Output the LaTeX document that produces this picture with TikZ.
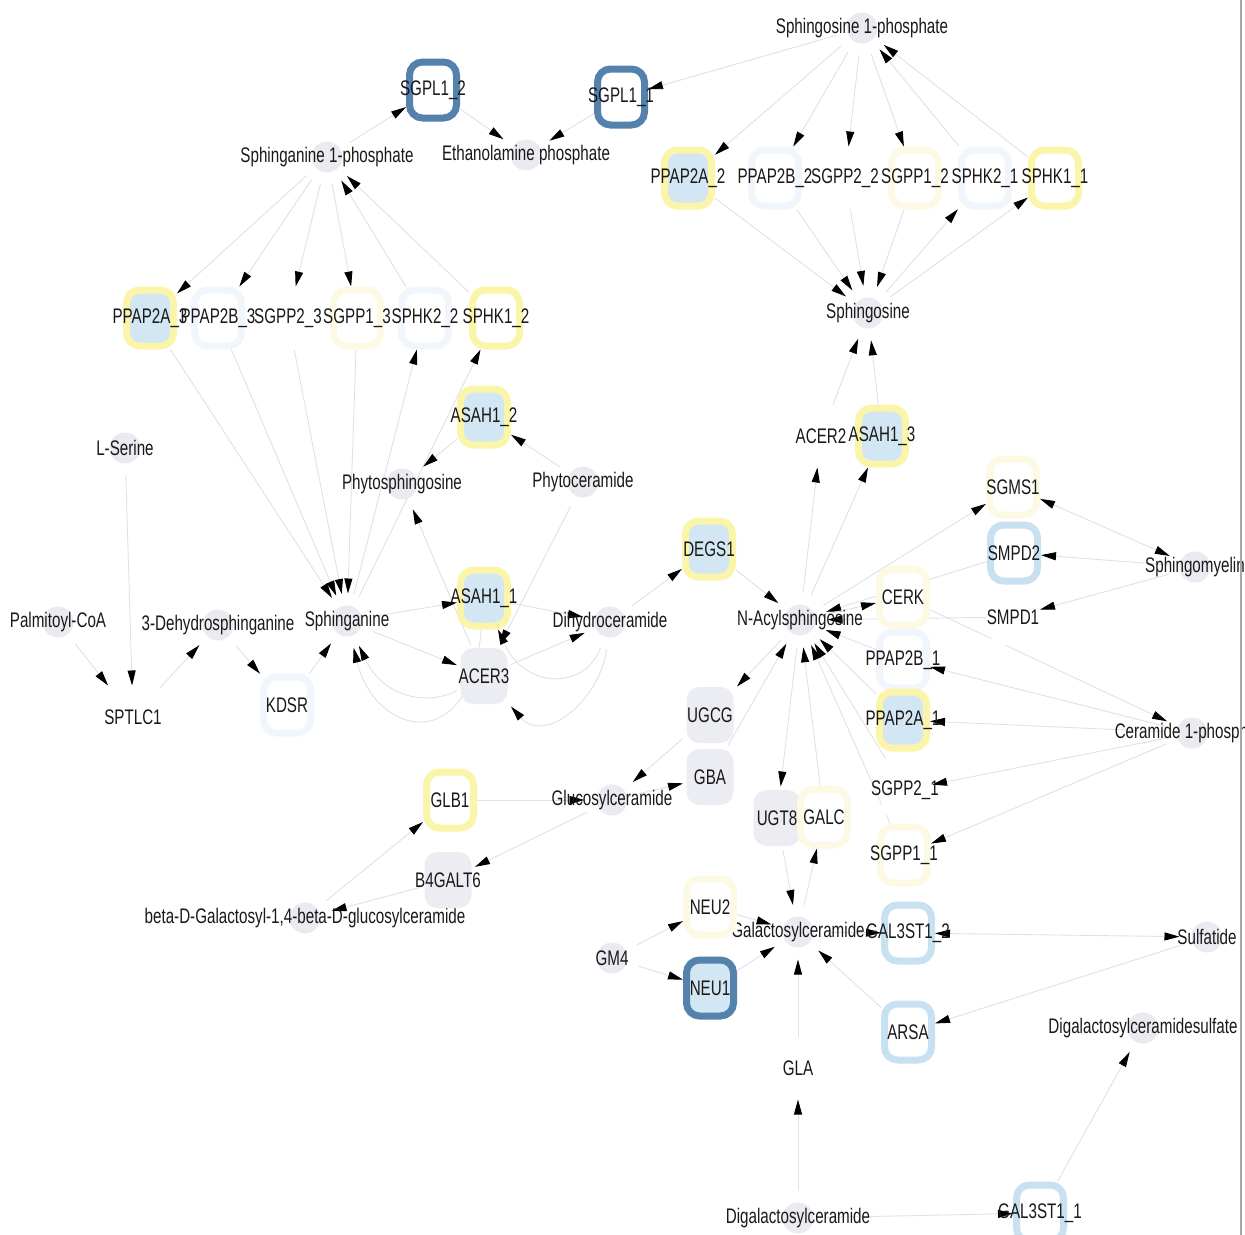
\documentclass[tikz,border=0pt]{standalone}
\usepackage{fontspec}
\setmainfont{Liberation Sans}[FakeStretch=0.72]
\usepackage{xcolor}
\usetikzlibrary{arrows.meta,backgrounds}

\definecolor{bordDark}{RGB}{84,130,172}
\definecolor{bordBlue}{RGB}{200,225,240}
\definecolor{bordFaint}{RGB}{240,246,251}
\definecolor{bordYel}{RGB}{250,245,168}
\definecolor{bordCream}{RGB}{252,250,228}
\definecolor{fillBlue}{RGB}{210,230,243}
\definecolor{fillGray}{RGB}{236,237,242}
\definecolor{metGray}{RGB}{234,235,241}
\definecolor{edgeGray}{RGB}{222,225,232}

\tikzset{
  lbl/.style={font=\fontsize{12}{13}\selectfont, text=black!90, inner sep=0pt},
  met/.style={circle, fill=metGray, minimum size=6.2mm, inner sep=0pt, outer sep=2.4mm},
  enz/.style={rounded corners=2.6mm, minimum width=9.4mm, minimum height=11.2mm,
    inner sep=0pt, outer sep=0.7mm, line width=1.4mm},
  enzDark/.style={enz, draw=bordDark, fill=white},
  enzDarkB/.style={enz, draw=bordDark, fill=fillBlue},
  enzYB/.style={enz, draw=bordYel, fill=fillBlue},
  enzYW/.style={enz, draw=bordYel, fill=white},
  enzLB/.style={enz, draw=bordBlue, fill=white},
  enzFB/.style={enz, draw=bordFaint, fill=white},
  enzFY/.style={enz, draw=bordCream, fill=white},
  enzGray/.style={enz, fill=fillGray},
  enzNone/.style={enz, fill=white},
  flow/.style={draw=edgeGray, line width=0.5pt,
    -{Triangle[length=3mm,width=1.6mm,color=black]}},
  twoway/.style={draw=edgeGray, line width=0.5pt,
    {Triangle[length=3mm,width=1.6mm,color=black]}-{Triangle[length=3mm,width=1.6mm,color=black]}}
}

\begin{document}
\begin{tikzpicture}[x=0.2mm,y=-0.2mm]
\useasboundingbox (0,0) rectangle (1245,1235);

% Metabolites
\node[met, label={[lbl]center:Sphingosine 1-phosphate}] (s1p) at (862,28) {};
\node[met, label={[lbl]center:Sphinganine 1-phosphate}] (sa1p) at (327,157) {};
\node[met, label={[lbl]center:Ethanolamine phosphate}] (etap) at (526,155) {};
\node[met, label={[lbl]center:Sphingosine}] (so) at (868,313) {};
\node[met, label={[lbl]center:L-Serine}] (lser) at (125,448) {};
\node[met, label={[lbl]center:Phytosphingosine}] (phso) at (402,484) {};
\node[met, label={[lbl]center:Phytoceramide}] (phcer) at (583,482) {};
\node[met, label={[lbl]center:Palmitoyl-CoA}] (palm) at (58,622) {};
\node[met, label={[lbl]center:3-Dehydrosphinganine}] (dhsa) at (218,625) {};
\node[met, label={[lbl]center:Sphinganine}] (sa) at (347,621) {};
\node[met, label={[lbl]center:Dihydroceramide}] (dhcer) at (610,622) {};
\node[met, label={[lbl]center:N-Acylsphingosine}] (nacyl) at (800,620) {};
\node[met, label={[lbl]center:Sphingomyelin}] (sm) at (1195,567) {};
\node[met, label={[lbl]center:Ceramide 1-phosphate}] (c1p) at (1192,733) {};
\node[met, label={[lbl]center:Glucosylceramide}] (glc) at (612,800) {};
\node[met, label={[lbl]center:{beta-D-Galactosyl-1,4-beta-D-glucosylceramide}}] (lac) at (305,918) {};
\node[met, label={[lbl]center:GM4}] (gm4) at (612,958) {};
\node[met, label={[lbl]center:Galactosylceramide}] (gal) at (798,932) {};
\node[met, label={[lbl]center:Sulfatide}] (sulf) at (1207,937) {};
\node[met, label={[lbl]center:Digalactosylceramidesulfate}] (dgs) at (1143,1028) {};
\node[met, label={[lbl]center:Digalactosylceramide}] (dg) at (798,1218) {};

% Enzymes, top
\node[enzDark, label={[lbl]center:SGPL1\_2}] (sgpl12) at (433,90) {};
\node[enzDark, label={[lbl]center:SGPL1\_1}] (sgpl11) at (621,97) {};
\node[enzYB, label={[lbl]center:PPAP2A\_2}] (ppap2a2) at (688,178) {};
\node[enzFB, label={[lbl]center:PPAP2B\_2}] (ppap2b2) at (775,178) {};
\node[enzNone, label={[lbl]center:SGPP2\_2}] (sgpp22) at (845,178) {};
\node[enzFY, label={[lbl]center:SGPP1\_2}] (sgpp12) at (915,178) {};
\node[enzFB, label={[lbl]center:SPHK2\_1}] (sphk21) at (985,178) {};
\node[enzYW, label={[lbl]center:SPHK1\_1}] (sphk11) at (1055,178) {};
\node[enzYB, label={[lbl]center:PPAP2A\_3}] (ppap2a3) at (150,318) {};
\node[enzFB, label={[lbl]center:PPAP2B\_3}] (ppap2b3) at (218,318) {};
\node[enzNone, label={[lbl]center:SGPP2\_3}] (sgpp23) at (288,318) {};
\node[enzFY, label={[lbl]center:SGPP1\_3}] (sgpp13) at (357,318) {};
\node[enzFB, label={[lbl]center:SPHK2\_2}] (sphk22) at (425,318) {};
\node[enzYW, label={[lbl]center:SPHK1\_2}] (sphk12) at (496,318) {};

% Enzymes, middle
\node[enzYB, label={[lbl]center:ASAH1\_2}] (asah12) at (484,417) {};
\node[enzYB, label={[lbl]center:ASAH1\_1}] (asah11) at (484,598) {};
\node[enzGray, label={[lbl]center:ACER3}] (acer3) at (484,676) {};
\node[enzFB, label={[lbl]center:KDSR}] (kdsr) at (287,705) {};
\node[enzNone, label={[lbl]center:SPTLC1}] (sptlc1) at (133,717) {};
\node[enzYB, label={[lbl]center:DEGS1}] (degs1) at (709,549) {};
\node[enzNone, label={[lbl]center:ACER2}] (acer2) at (821,436) {};
\node[enzYB, label={[lbl]center:ASAH1\_3}] (asah13) at (882,436) {};
\node[enzFY, label={[lbl]center:SGMS1}] (sgms1) at (1013,487) {};
\node[enzLB, label={[lbl]center:SMPD2}] (smpd2) at (1014,553) {};
\node[enzNone, label={[lbl]center:SMPD1}] (smpd1) at (1013,617) {};
\node[enzFY, label={[lbl]center:CERK}] (cerk) at (903,597) {};
\node[enzFB, label={[lbl]center:PPAP2B\_1}] (ppap2b1) at (903,660) {};
\node[enzYB, label={[lbl]center:PPAP2A\_1}] (ppap2a1) at (903,720) {};
\node[enzNone, label={[lbl]center:SGPP2\_1}] (sgpp21) at (905,790) {};
\node[enzFY, label={[lbl]center:SGPP1\_1}] (sgpp11) at (904,855) {};

% Enzymes, bottom
\node[enzGray, label={[lbl]center:UGCG}] (ugcg) at (710,715) {};
\node[enzGray, label={[lbl]center:GBA}] (gba) at (710,777) {};
\node[enzGray, label={[lbl]center:UGT8}] (ugt8) at (777,818) {};
\node[enzFY, label={[lbl]center:GALC}] (galc) at (824,817) {};
\node[enzYW, label={[lbl]center:GLB1}] (glb1) at (450,800) {};
\node[enzGray, label={[lbl]center:B4GALT6}] (b4galt6) at (448,880) {};
\node[enzFY, label={[lbl]center:NEU2}] (neu2) at (710,907) {};
\node[enzDarkB, label={[lbl]center:NEU1}] (neu1) at (710,988) {};
\node[enzLB, label={[lbl]center:GAL3ST1\_2}] (gal3st12) at (908,933) {};
\node[enzLB, label={[lbl]center:ARSA}] (arsa) at (908,1032) {};
\node[enzNone, label={[lbl]center:GLA}] (gla) at (798,1068) {};
\node[enzLB, label={[lbl]center:GAL3ST1\_1}] (gal3st11) at (1040,1213) {};

\begin{scope}[on background layer]
\fill[white] (0,0) rectangle (1245,1235);

% Lyase
\draw[flow] (sa1p) -- (sgpl12);
\draw[flow] (sgpl12) -- (etap);
\draw[flow] (s1p) -- (sgpl11);
\draw[flow] (sgpl11) -- (etap);

% Sphinganine 1-phosphate cycle
\draw[flow] (sa1p) -- (ppap2a3);
\draw[flow] (sa1p) -- (ppap2b3);
\draw[flow] (sa1p) -- (sgpp23);
\draw[flow] (sa1p) -- (sgpp13);
\draw[flow] (ppap2a3) -- (sa);
\draw[flow] (ppap2b3) -- (sa);
\draw[flow] (sgpp23) -- (sa);
\draw[flow] (sgpp13) -- (sa);
\draw[flow] (sa) -- (sphk22);
\draw[flow] (sa) -- (sphk12);
\draw[flow] (sphk22) -- (sa1p);
\draw[flow] (sphk12) -- (sa1p);

% Sphingosine 1-phosphate cycle
\draw[flow] (s1p) -- (ppap2a2);
\draw[flow] (s1p) -- (ppap2b2);
\draw[flow] (s1p) -- (sgpp22);
\draw[flow] (s1p) -- (sgpp12);
\draw[flow] (ppap2a2) -- (so);
\draw[flow] (ppap2b2) -- (so);
\draw[flow] (sgpp22) -- (so);
\draw[flow] (sgpp12) -- (so);
\draw[flow] (so) -- (sphk21);
\draw[flow] (so) -- (sphk11);
\draw[flow] (sphk21) -- (s1p);
\draw[flow] (sphk11) -- (s1p);

% De novo synthesis
\draw[flow] (lser) -- (sptlc1);
\draw[flow] (palm) -- (sptlc1);
\draw[flow] (sptlc1) -- (dhsa);
\draw[flow] (dhsa) -- (kdsr);
\draw[flow] (kdsr) -- (sa);

% Phyto branch
\draw[flow] (phcer) -- (asah12);
\draw[flow] (asah12) -- (phso);
\draw[flow] (phcer) -- (acer3);
\draw[flow] (acer3) -- (phso);

% Dihydroceramide
\draw[flow] (sa) -- (asah11);
\draw[flow] (asah11) -- (dhcer);
\draw[flow] (dhcer) .. controls (585,690) and (525,690) .. (asah11);
\draw[flow] (sa) -- (acer3);
\draw[flow] (acer3) -- (dhcer);
\draw[flow] (dhcer) .. controls (600,700) and (545,745) .. (acer3);
\draw[flow] (acer3) .. controls (430,705) and (385,700) .. (sa);
\draw[flow] (asah11) .. controls (470,760) and (375,735) .. (sa);
\draw[flow] (dhcer) -- (degs1);
\draw[flow] (degs1) -- (nacyl);

% Ceramide to sphingosine
\draw[flow] (nacyl) -- (acer2);
\draw[flow] (nacyl) -- (asah13);
\draw[flow] (acer2) -- (so);
\draw[flow] (asah13) -- (so);

% Sphingomyelin
\draw[flow] (nacyl) -- (sgms1);
\draw[twoway] (sgms1) -- (sm);
\draw[flow] (sm) -- (smpd2);
\draw[flow] (sm) -- (smpd1);
\draw[flow] (smpd2) -- (nacyl);
\draw[flow] (smpd1) -- (nacyl);

% Ceramide 1-phosphate
\draw[flow] (nacyl) -- (cerk);
\draw[flow] (cerk) -- (c1p);
\draw[flow] (c1p) -- (ppap2b1);
\draw[flow] (c1p) -- (ppap2a1);
\draw[flow] (c1p) -- (sgpp21);
\draw[flow] (c1p) -- (sgpp11);
\draw[flow] (ppap2b1) -- (nacyl);
\draw[flow] (ppap2a1) -- (nacyl);
\draw[flow] (sgpp21) -- (nacyl);
\draw[flow] (sgpp11) -- (nacyl);

% Glucosylceramide
\draw[flow] (nacyl) -- (ugcg);
\draw[flow] (ugcg) -- (glc);
\draw[flow] (glc) -- (gba);
\draw[flow] (gba) -- (nacyl);
\draw[flow] (glc) -- (b4galt6);
\draw[flow] (b4galt6) -- (lac);
\draw[flow] (lac) -- (glb1);
\draw[flow] (glb1) -- (glc);

% Galactosylceramide
\draw[flow] (nacyl) -- (ugt8);
\draw[flow] (ugt8) -- (gal);
\draw[flow] (gal) -- (galc);
\draw[flow] (galc) -- (nacyl);
\draw[flow] (gm4) -- (neu2);
\draw[flow] (gm4) -- (neu1);
\draw[flow] (neu2) -- (gal);
\draw[flow] (neu1) -- (gal);
\draw[flow] (gal) -- (gal3st12);
\draw[twoway] (gal3st12) -- (sulf);
\draw[flow] (sulf) -- (arsa);
\draw[flow] (arsa) -- (gal);
\draw[flow] (dg) -- (gla);
\draw[flow] (gla) -- (gal);
\draw[flow] (dg) -- (gal3st11);
\draw[flow] (gal3st11) -- (dgs);
\end{scope}

% Frame
\draw[black!35, line width=0.4mm] (1241,0) -- (1241,1235);

\end{tikzpicture}
\end{document}
